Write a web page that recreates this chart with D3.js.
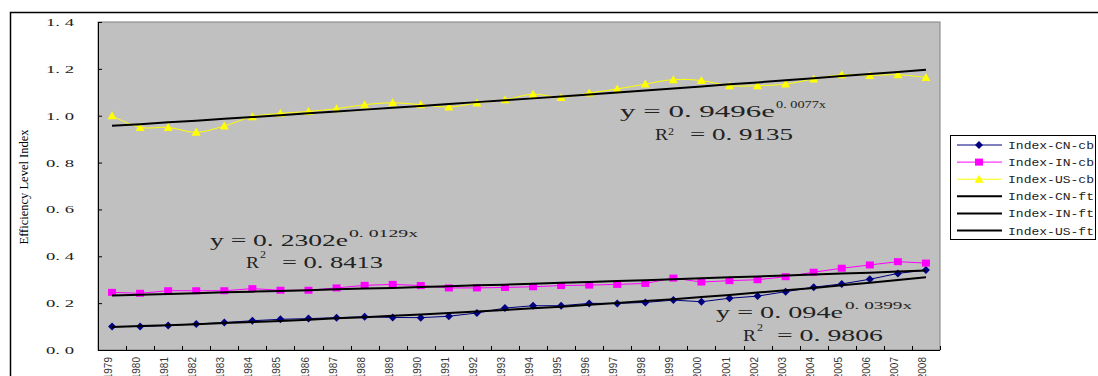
<!DOCTYPE html>
<html>
<head>
<meta charset="utf-8">
<script src="https://cdn.jsdelivr.net/npm/d3@7"></script>
<style>
  body { margin: 0; background: #fff; }
  svg { display: block; }
</style>
</head>
<body>
<svg id="chart" width="1098" height="376"></svg>
<script>
const years = ['1979','1980','1981','1982','1983','1984','1985','1986','1987','1988',
  '1989','1990','1991','1992','1993','1994','1995','1996','1997','1998',
  '1999','2000','2001','2002','2003','2004','2005','2006','2007','2008'];
const yTicks = [0, 0.2, 0.4, 0.6, 0.8, 1.0, 1.2, 1.4];

// observed indices
const cnCb = [0.100, 0.100, 0.105, 0.111, 0.117, 0.125, 0.131, 0.134, 0.138, 0.142,
  0.139, 0.138, 0.144, 0.158, 0.179, 0.189, 0.189, 0.199, 0.199, 0.203,
  0.213, 0.206, 0.221, 0.230, 0.249, 0.268, 0.282, 0.302, 0.327, 0.341];
const inCb = [0.246, 0.242, 0.253, 0.253, 0.253, 0.262, 0.255, 0.255, 0.265, 0.276,
  0.280, 0.275, 0.265, 0.265, 0.267, 0.270, 0.275, 0.277, 0.280, 0.284,
  0.307, 0.290, 0.296, 0.300, 0.313, 0.332, 0.349, 0.363, 0.377, 0.371];
const usCb = [1.000, 0.950, 0.950, 0.929, 0.956, 0.996, 1.010, 1.018, 1.030, 1.047,
  1.055, 1.047, 1.037, 1.054, 1.068, 1.092, 1.078, 1.097, 1.114, 1.135,
  1.154, 1.150, 1.128, 1.128, 1.135, 1.157, 1.175, 1.172, 1.175, 1.163];

// fitted trend lines
const cnFt = [0.098, 0.102, 0.106, 0.110, 0.115, 0.119, 0.124, 0.129, 0.135, 0.140,
  0.146, 0.152, 0.158, 0.164, 0.171, 0.178, 0.185, 0.193, 0.201, 0.209,
  0.217, 0.226, 0.235, 0.245, 0.255, 0.265, 0.276, 0.287, 0.299, 0.311];
const inFt = [0.233, 0.236, 0.239, 0.242, 0.246, 0.249, 0.252, 0.255, 0.259, 0.262,
  0.265, 0.269, 0.272, 0.276, 0.279, 0.283, 0.287, 0.290, 0.294, 0.298,
  0.302, 0.306, 0.310, 0.314, 0.318, 0.322, 0.326, 0.330, 0.335, 0.339];
const usFt = [0.957, 0.964, 0.972, 0.979, 0.987, 0.994, 1.002, 1.010, 1.018, 1.026,
  1.034, 1.041, 1.050, 1.058, 1.066, 1.074, 1.082, 1.091, 1.099, 1.108,
  1.116, 1.125, 1.134, 1.142, 1.151, 1.160, 1.169, 1.178, 1.187, 1.196];

const legendLabels = ['Index-CN-cb', 'Index-IN-cb', 'Index-US-cb', 'Index-CN-ft', 'Index-IN-ft', 'Index-US-ft'];

const svg = d3.select('#chart');
const plot = { left: 98, right: 940, top: 22, bottom: 350 };
const serif = '"Liberation Serif", "DejaVu Serif", serif';
const textColor = '#222';

// outer frame
svg.append('rect')
  .attr('x', 10.5).attr('y', 12.5)
  .attr('width', 1200).attr('height', 500)
  .attr('fill', 'none').attr('stroke', '#000').attr('stroke-width', 1.5);

const x = d3.scaleBand().domain(years).range([plot.left, plot.right]);
const y = d3.scaleLinear().domain([0, 1.4]).range([plot.bottom, plot.top]);
const cx = d => x(d) + x.bandwidth() / 2;

// plot area
svg.append('rect')
  .attr('x', plot.left).attr('y', plot.top)
  .attr('width', plot.right - plot.left).attr('height', plot.bottom - plot.top)
  .attr('fill', '#c0c0c0').attr('stroke', '#808080').attr('stroke-width', 1);

// y axis
const yAxis = svg.append('g')
  .attr('transform', `translate(${plot.left},0)`)
  .call(d3.axisLeft(y).tickValues(yTicks).tickSizeInner(-4).tickSizeOuter(0).tickPadding(24)
    .tickFormat(d => d3.format('.1f')(d).replace('.', '. ')));
yAxis.select('.domain').attr('stroke', '#000');
yAxis.selectAll('.tick line').attr('stroke', '#000');
yAxis.selectAll('text')
  .attr('font-family', serif).attr('font-size', 11).attr('fill', textColor)
  .attr('textLength', 28).attr('lengthAdjust', 'spacingAndGlyphs')
  .style('white-space', 'pre');

// x axis
const xAxis = svg.append('g');
xAxis.append('line')
  .attr('x1', plot.left).attr('x2', plot.right)
  .attr('y1', plot.bottom + 0.5).attr('y2', plot.bottom + 0.5)
  .attr('stroke', '#000');
xAxis.selectAll('line.tick')
  .data(years.concat(['end']))
  .join('line')
  .attr('class', 'tick')
  .attr('x1', d => Math.round(d === 'end' ? plot.right : x(d)) + 0.5)
  .attr('x2', d => Math.round(d === 'end' ? plot.right : x(d)) + 0.5)
  .attr('y1', plot.bottom - 4).attr('y2', plot.bottom)
  .attr('stroke', '#000');
xAxis.selectAll('text')
  .data(years)
  .join('text')
  .attr('transform', d => `translate(${cx(d)},357) rotate(-90)`)
  .attr('text-anchor', 'end')
  .attr('font-family', '"Liberation Sans", Arial, sans-serif')
  .attr('font-size', 10)
  .attr('fill', '#333')
  .text(d => d);

// y title
svg.append('text')
  .attr('transform', 'translate(28,187) rotate(-90)')
  .attr('text-anchor', 'middle')
  .attr('font-family', serif).attr('font-size', 12).attr('fill', '#000')
  .attr('textLength', 115).attr('lengthAdjust', 'spacingAndGlyphs')
  .text('Efficiency Level Index');

// markers
const diamond = 'M0,-4L4,0L0,4L-4,0Z';
const square = 'M-4,-3.5H4V3.5H-4Z';
const triangle = 'M0,-4.5L4.5,3.5H-4.5Z';

const series = [
  { values: cnCb, color: '#000080', marker: diamond, curve: d3.curveLinear },
  { values: inCb, color: '#ff00ff', marker: square, curve: d3.curveLinear },
  { values: usCb, color: '#ffff00', marker: triangle, curve: d3.curveCatmullRom }
];
const fits = [cnFt, inFt, usFt];

series.forEach(s => {
  const line = d3.line().x((d, i) => cx(years[i])).y(d => y(d)).curve(s.curve);
  svg.append('path')
    .attr('d', line(s.values))
    .attr('fill', 'none').attr('stroke', s.color).attr('stroke-width', 1);
  svg.append('g').selectAll('path')
    .data(s.values)
    .join('path')
    .attr('transform', (d, i) => `translate(${cx(years[i])},${y(d)})`)
    .attr('d', s.marker)
    .attr('fill', s.color);
});

fits.forEach(f => {
  const line = d3.line().x((d, i) => cx(years[i])).y(d => y(d));
  svg.append('path')
    .attr('d', line(f))
    .attr('fill', 'none').attr('stroke', '#000').attr('stroke-width', 2);
});

// trend equations
function label(s, px, py, size, len) {
  svg.append('text')
    .attr('x', px).attr('y', py)
    .attr('font-family', serif).attr('font-size', size).attr('fill', textColor)
    .attr('textLength', len).attr('lengthAdjust', 'spacingAndGlyphs')
    .style('white-space', 'pre')
    .text(s);
}
// US
label('y = 0. 9496e', 620, 117, 17, 155);
label('0. 0077x', 776, 108, 10, 50);
label('R', 655, 140, 17, 13);
label('2', 668, 135, 10, 6);
label('= 0. 9135', 690, 140, 17, 103);
// IN
label('y = 0. 2302e', 210, 246, 17, 138);
label('0. 0129x', 349, 237, 10, 69);
label('R', 246, 268, 17, 13);
label('2', 260, 258, 10, 6);
label('= 0. 8413', 282, 268, 17, 101);
// CN
label('y = 0. 094e', 716, 318, 17, 127);
label('0. 0399x', 845, 309, 10, 67);
label('R', 743, 341, 17, 13);
label('2', 757, 331, 10, 6);
label('= 0. 9806', 777, 341, 17, 106);

// legend
const legend = svg.append('g');
legend.append('rect')
  .attr('x', 950.5).attr('y', 135.5).attr('width', 145).attr('height', 104)
  .attr('fill', '#fff').attr('stroke', '#000').attr('stroke-width', 1);
const rowY = i => 145 + i * 17.1;
legendLabels.forEach((name, i) => {
  const isFit = i >= 3;
  const s = series[i];
  legend.append('line')
    .attr('x1', 957).attr('x2', 1002)
    .attr('y1', rowY(i)).attr('y2', rowY(i))
    .attr('stroke', isFit ? '#000' : s.color)
    .attr('stroke-width', isFit ? 2 : 1);
  if (!isFit) {
    legend.append('path')
      .attr('transform', `translate(979,${rowY(i)})`)
      .attr('d', s.marker).attr('fill', s.color);
  }
  legend.append('text')
    .attr('x', 1008).attr('y', rowY(i) + 4)
    .attr('font-family', '"Liberation Mono", "DejaVu Sans Mono", monospace')
    .attr('font-size', 11).attr('fill', textColor)
    .attr('textLength', 86).attr('lengthAdjust', 'spacingAndGlyphs')
    .text(name);
});
</script>
</body>
</html>
